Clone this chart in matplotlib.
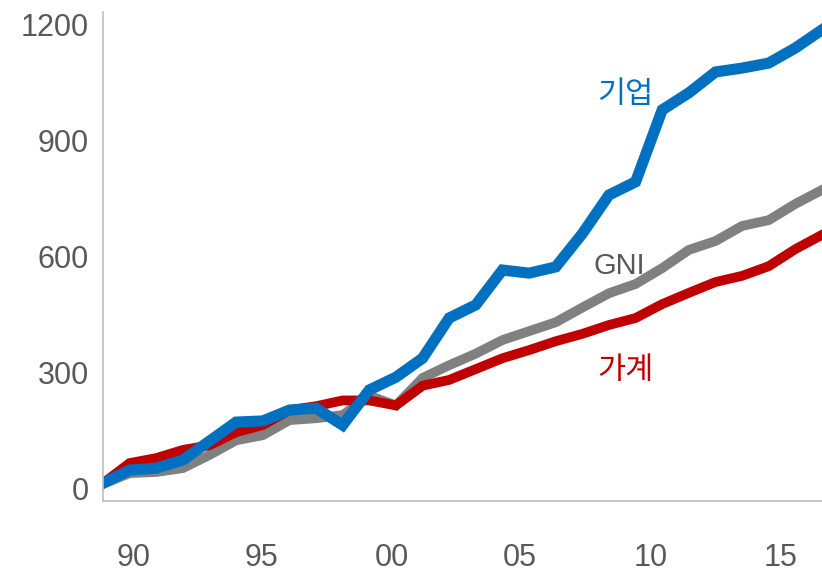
import matplotlib
matplotlib.use("Agg")
import matplotlib.pyplot as plt

years = list(range(1989, 2017))

# 기업 (corporate)
corp = [14, 48, 53, 74, 123, 172, 175, 203, 208, 164, 255, 288, 337, 441, 475,
        565, 557, 573, 659, 759, 793, 979, 1023, 1077, 1087, 1100, 1139, 1186]
# GNI
gni = [12, 40, 43, 53, 87, 125, 138, 177, 182, 190, 240, 215, 286, 319, 349,
       384, 407, 430, 468, 505, 529, 570, 617, 640, 679, 694, 736, 772]
# 가계 (household)
household = [14, 66, 79, 100, 112, 146, 164, 203, 213, 228, 228, 215, 266, 281, 309,
             337, 358, 381, 400, 423, 441, 477, 506, 534, 550, 575, 619, 656]

y_ticks = [0, 300, 600, 900, 1200]
x_tick_labels = ["90", "95", "00", "05", "10", "15"]
x_tick_pos = [1990.15, 1994.97, 1999.85, 2004.66, 2009.58, 2014.46]

BLUE = "#0070C0"
RED = "#C00000"
GRAY = "#808080"
TEXT = "#595959"

fig = plt.figure(figsize=(8.22, 5.72), dpi=100)
ax = fig.add_axes([103 / 822, 71 / 572, 719 / 822, 489 / 572])

ax.plot(years, gni, color=GRAY, lw=7, solid_joinstyle="miter")
ax.plot(years, household, color=RED, lw=7, solid_joinstyle="miter")
ax.plot(years, corp, color=BLUE, lw=8, solid_joinstyle="miter")

ax.set_xlim(1989, 2016)
ax.set_ylim(-32, 1232)

ax.set_yticks(y_ticks)
ax.set_yticklabels([str(v) for v in y_ticks])
ax.set_xticks(x_tick_pos)
ax.set_xticklabels(x_tick_labels)

font = ["Liberation Sans", "DejaVu Sans"]
for lbl in ax.get_xticklabels() + ax.get_yticklabels():
    lbl.set_family(font)
    lbl.set_fontsize(22)
    lbl.set_color(TEXT)

ax.tick_params(axis="both", length=0)
ax.tick_params(axis="y", pad=10)
ax.tick_params(axis="x", pad=30)

for side in ["top", "right"]:
    ax.spines[side].set_visible(False)
for side in ["left", "bottom"]:
    ax.spines[side].set_color("#BFBFBF")
    ax.spines[side].set_linewidth(1.2)

kr = ["Noto Sans CJK KR", "DejaVu Sans"]
ax.text(2008.6, 1020, "기업", color=BLUE, fontsize=22, family=kr, ha="center", va="center")
ax.text(2008.4, 575, "GNI", color=TEXT, fontsize=21, family=font, ha="center", va="center")
ax.text(2008.6, 305, "가계", color=RED, fontsize=22, family=kr, ha="center", va="center")

fig.savefig("out.png", dpi=100)
